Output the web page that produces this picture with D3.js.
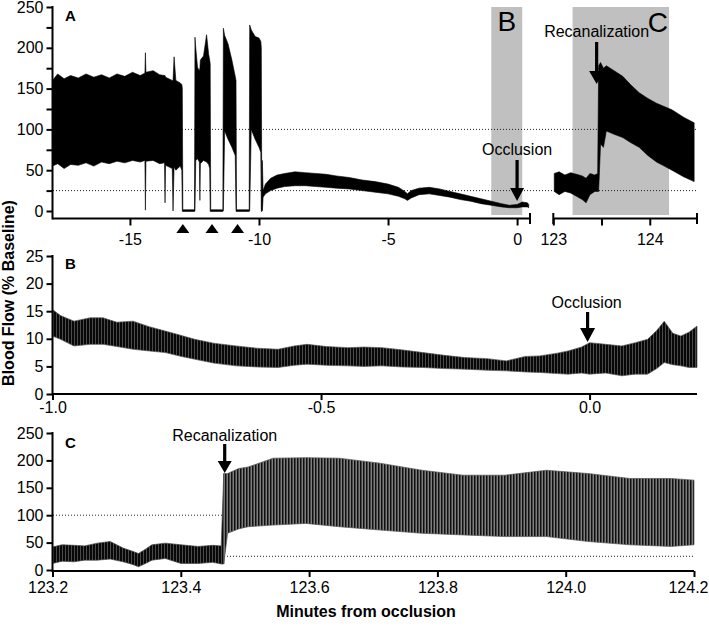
<!DOCTYPE html>
<html><head><meta charset="utf-8">
<script src="https://cdn.jsdelivr.net/npm/d3@7"></script>
<style>body{margin:0;background:#fff}svg{display:block}</style>
</head><body><svg id="c" width="709" height="627"></svg>
<script>
// ---------- DATA ([minutes, lower envelope, upper envelope]) ----------
const panelA_before = [
 [-18.00,55,160],[-17.80,58,168],[-17.55,52,162],[-17.30,57,166],[-17.00,56,163],[-16.70,59,168],
 [-16.40,55,164],[-16.10,60,167],[-15.80,58,163],[-15.50,61,168],[-15.20,59,165],[-14.90,62,170],
 [-14.60,60,166],[-14.42,62,169],[-14.40,1,194],[-14.38,61,170],[-14.10,62,172],[-13.85,58,167],
 [-13.66,59,166],[-13.64,10,166],[-13.62,56,164],[-13.36,52,160],[-13.33,0,160],[-13.29,54,189],
 [-13.22,50,160],[-13.05,55,157],[-12.99,50,155],[-12.97,-0.5,150],[-12.95,-0.5,1.5],[-12.50,-0.5,1.5],
 [-12.48,0,213],[-12.45,62,200],[-12.38,64,176],[-12.31,60,172],[-12.29,13,175],[-12.27,58,185],
 [-12.15,62,190],[-12.03,60,216],[-11.95,57,192],[-11.91,52,185],[-11.89,-0.5,180],[-11.87,-0.5,1.5],
 [-11.40,-0.5,1.5],[-11.38,0,224],[-11.33,98,215],[-11.20,88,205],[-11.05,78,185],[-10.92,68,165],
 [-10.89,-0.5,160],[-10.87,-0.5,1.5],[-10.38,-0.5,1.5],[-10.36,0,228],[-10.30,100,222],[-10.15,88,214],
 [-10.00,78,212],[-9.93,72,208],[-9.91,-0.5,200],[-9.89,-0.5,1.5],[-9.87,0,62],[-9.84,17,25],
 [-9.75,21,33],[-9.55,25,40],[-9.30,28,44],[-9.00,30,46],[-8.60,31,48],[-8.20,31,47],[-7.80,30,46],
 [-7.40,29,45],[-7.00,28,43],[-6.50,27,41],[-6.00,25,38],[-5.50,23,36],[-5.00,21,33],[-4.60,18,29],
 [-4.35,15,24],[-4.25,13,21],[-4.10,16,25],[-3.80,20,28],[-3.40,21,29],[-3.00,19,27],[-2.60,17,24],
 [-2.20,14,21],[-1.80,12,18],[-1.40,9,15],[-1.00,7,12],[-0.60,5,9],[-0.30,4,7],[0.00,4,8],
 [0.20,5,11],[0.40,5,10],[0.45,4,8]
];
const panelA_after = [
 [123.01,24,46],[123.06,20,48],[123.12,24,44],[123.18,22,47],[123.24,18,45],[123.30,14,43],
 [123.34,10,40],[123.38,20,46],[123.43,24,44],[123.46,24,46],[123.47,24,178],[123.49,82,182],
 [123.52,78,175],[123.55,98,178],[123.63,94,172],[123.72,90,165],[123.80,84,155],[123.89,78,145],
 [123.98,68,138],[124.07,60,132],[124.15,55,128],[124.23,50,124],[124.35,42,115],[124.46,36,108]
];
const panelB_trace = [
 [-1.000,10.5,15.3],[-0.985,9.9,14.2],[-0.960,8.7,13.2],[-0.930,9.0,13.8],[-0.906,9.0,13.8],
 [-0.880,8.6,13.0],[-0.850,8.1,13.2],[-0.820,7.8,12.2],[-0.790,7.5,11.4],[-0.760,6.8,10.6],
 [-0.735,6.3,9.9],[-0.700,5.6,9.2],[-0.658,5.1,8.7],[-0.620,4.9,8.3],[-0.580,4.8,8.1],
 [-0.550,5.2,8.7],[-0.526,5.4,9.0],[-0.490,5.2,8.6],[-0.450,5.1,8.4],[-0.420,5.0,8.5],
 [-0.387,5.1,8.4],[-0.350,4.9,8.0],[-0.310,4.8,7.5],[-0.270,4.6,7.0],[-0.232,4.5,6.6],
 [-0.190,4.3,6.4],[-0.155,4.2,6.0],[-0.120,4.0,6.8],[-0.093,3.9,6.9],[-0.060,3.7,7.4],
 [-0.040,3.6,7.8],[-0.015,3.8,8.5],[0.000,3.6,9.3],[0.030,3.8,9.0],[0.060,3.3,8.7],
 [0.085,3.6,9.3],[0.108,3.6,9.9],[0.125,4.6,11.5],[0.139,5.7,13.2],[0.155,5.3,11.0],
 [0.170,5.1,10.5],[0.185,4.8,11.2],[0.200,4.8,12.3]
];
const panelC_pre = [
 [123.200,12,42],[123.215,16,46],[123.234,15,45],[123.250,18,44],[123.270,18,49],[123.290,20,52],
 [123.310,15,40],[123.325,10,34],[123.334,6,30],[123.345,12,38],[123.355,18,46],[123.376,21,49],
 [123.400,12,46],[123.427,12,43],[123.450,14,45],[123.463,11,44],[123.467,11,176]
];
const panelC_post = [
 [123.467,11,176],[123.473,67,176],[123.490,75,185],[123.505,79,188],[123.544,82,204],[123.595,85,205],
 [123.647,79,204],[123.710,73,195],[123.776,67,182],[123.840,64,173],[123.905,61,173],
 [123.970,61,182],[124.035,52,176],[124.100,46,167],[124.164,43,167],[124.200,46,164]
];
const refLevels = [100, 25];
const occlusionMarks = [-12.95, -11.82, -10.83];
const windowB = [-1.0, 0.2];
const windowC = [123.2, 124.2];
const occlusionTime = 0;
const recanTime = 123.47;
const ticksA1 = [-15, -10, -5, 0];
const ticksA1Labels = ["-15", "-10", "-5", "0"];
const ticksA2 = [123, 124];
const ticksA2Labels = ["123", "124"];
const ticksAY = [0,25,50,75,100,125,150,175,200,225,250];
const ticksBX = [-1.0, -0.5, 0.0];
const ticksBXLabels = ["-1.0", "-0.5", "0.0"];
const ticksBY = [0,5,10,15,20,25];
const ticksCX = [123.2,123.4,123.6,123.8,124.0,124.2];
const ticksCXLabels = ["123.2","123.4","123.6","123.8","124.0","124.2"];
const ticksCY = [0,50,100,150,200,250];

// ---------- DRAWING ----------
const FONT = '"Liberation Sans", Arial, Helvetica, sans-serif';
const svg = d3.select("#c");
const defs = svg.append("defs");
function stripePattern(id, w, bg, lineW, fg) {
  const p = defs.append("pattern").attr("id", id).attr("width", w).attr("height", 8)
    .attr("patternUnits", "userSpaceOnUse");
  p.append("rect").attr("width", w).attr("height", 8).attr("fill", bg);
  p.append("rect").attr("width", lineW).attr("height", 8).attr("fill", fg);
}
stripePattern("stripesC", 3, "#7e7e7e", 1.5, "#101010");
stripePattern("noiseB", 3, "#4a4a4a", 2, "#080808");

// scales
const xA1 = d3.scaleLinear().domain([-18, 0.5]).range([52.5, 530]);
const xA2 = d3.scaleLinear().domain([123, 124.5]).range([553.3, 698]);
const yA = d3.scaleLinear().domain([0, 250]).range([211, 7]);
const xB = d3.scaleLinear().domain([-1.0, 0.2]).range([52.5, 697]);
const yB = d3.scaleLinear().domain([0, 25]).range([394, 256]);
const xC = d3.scaleLinear().domain([123.2, 124.2]).range([52.5, 694]);
const yC = d3.scaleLinear().domain([0, 250]).range([570, 433]);

const areaOf = (x, y) => d3.area().x(d => x(d[0])).y0(d => y(d[1])).y1(d => y(d[2]));

// gray zoom windows in panel A
svg.append("rect").attr("x", xA1(windowB[0])).attr("y", 7)
  .attr("width", xA1(windowB[1]) - xA1(windowB[0])).attr("height", 208).attr("fill", "#c0c0c0");
svg.append("rect").attr("x", xA2(windowC[0])).attr("y", 7)
  .attr("width", xA2(windowC[1]) - xA2(windowC[0])).attr("height", 208).attr("fill", "#c0c0c0");

// dotted reference lines
refLevels.forEach(v => {
  svg.append("line").attr("x1", 53).attr("x2", 697).attr("y1", yA(v)).attr("y2", yA(v))
    .attr("stroke", "#222").attr("stroke-width", 1).attr("stroke-dasharray", "1,2");
  svg.append("line").attr("x1", 53).attr("x2", 694).attr("y1", yC(v)).attr("y2", yC(v))
    .attr("stroke", "#222").attr("stroke-width", 1).attr("stroke-dasharray", "1,2");
});

// traces
svg.append("path").datum(panelA_before).attr("d", areaOf(xA1, yA)).attr("fill", "#000")
  .attr("stroke", "#000").attr("stroke-width", 0.6);
svg.append("path").datum(panelA_after).attr("d", areaOf(xA2, yA)).attr("fill", "#000")
  .attr("stroke", "#000").attr("stroke-width", 0.6);
svg.append("path").datum(panelB_trace).attr("d", areaOf(xB, yB)).attr("fill", "url(#noiseB)")
  .attr("stroke", "#555").attr("stroke-width", 0.7);
svg.append("path").datum(panelC_pre).attr("d", areaOf(xC, yC)).attr("fill", "url(#noiseB)")
  .attr("stroke", "#444").attr("stroke-width", 0.7);
svg.append("path").datum(panelC_post).attr("d", areaOf(xC, yC)).attr("fill", "url(#stripesC)")
  .attr("stroke", "#555").attr("stroke-width", 0.7);

// axes
function styleAxis(g) {
  g.select(".domain").remove();
  g.selectAll(".tick line").attr("stroke", "#000").attr("stroke-width", 2);
  g.selectAll(".tick text").attr("fill", "#000").style("font-size", "16px").style("font-family", FONT);
}
function hline(x1, x2, y) {
  svg.append("line").attr("x1", x1).attr("x2", x2).attr("y1", y).attr("y2", y)
    .attr("stroke", "#000").attr("stroke-width", 2);
}
function vline(x, y1, y2) {
  svg.append("line").attr("x1", x).attr("x2", x).attr("y1", y1).attr("y2", y2)
    .attr("stroke", "#000").attr("stroke-width", 2);
}

// Panel A
svg.append("g").attr("transform", "translate(52.5,0)")
  .call(d3.axisLeft(yA).tickValues(ticksAY).tickFormat(d => d % 50 === 0 ? d : "").tickSize(6).tickPadding(3))
  .call(styleAxis);
vline(52.5, 6, 219.5);
svg.append("g").attr("transform", "translate(0,218.5)")
  .call(d3.axisBottom(xA1).tickValues(ticksA1).tickFormat((d, i) => ticksA1Labels[i]).tickSize(7).tickPadding(8))
  .call(styleAxis);
hline(52.5, 530, 218.5);
vline(530, 213, 224);
svg.append("g").attr("transform", "translate(0,218.5)")
  .call(d3.axisBottom(xA2).tickValues(ticksA2).tickFormat((d, i) => ticksA2Labels[i]).tickSize(7).tickPadding(8))
  .call(styleAxis);
svg.append("g").attr("transform", "translate(0,218.5)")
  .call(d3.axisBottom(xA2).tickValues([123.5]).tickFormat("").tickSize(7))
  .call(styleAxis);
hline(553.3, 698, 218.5);
vline(553.3, 213, 224);
vline(697, 213, 224);

// occlusion triangles
svg.selectAll("path.tri").data(occlusionMarks).enter().append("path").attr("class", "tri")
  .attr("d", d => `M${xA1(d) - 6.5},233 L${xA1(d) + 6.5},233 L${xA1(d)},224 Z`).attr("fill", "#000");

// Panel B
svg.append("g").attr("transform", "translate(52.5,0)")
  .call(d3.axisLeft(yB).tickValues(ticksBY).tickSize(6).tickPadding(3))
  .call(styleAxis);
vline(52.5, 255, 395);
svg.append("g").attr("transform", "translate(0,394)")
  .call(d3.axisBottom(xB).tickValues(ticksBX).tickFormat((d, i) => ticksBXLabels[i]).tickSize(6).tickPadding(2))
  .call(styleAxis);
hline(52.5, 697, 394);

// Panel C
svg.append("g").attr("transform", "translate(52.5,0)")
  .call(d3.axisLeft(yC).tickValues(ticksCY).tickSize(6).tickPadding(3))
  .call(styleAxis);
vline(52.5, 432, 572);
const gCx = svg.append("g").attr("transform", "translate(0,571)")
  .call(d3.axisBottom(xC).tickValues(ticksCX).tickFormat((d, i) => ticksCXLabels[i]).tickSize(6).tickPadding(4.5))
  .call(styleAxis);
const cLabels = gCx.selectAll(".tick text");
cLabels.filter((d, i) => i === 0).attr("dx", -5);
cLabels.filter((d, i) => i === ticksCX.length - 1).attr("text-anchor", "end").attr("dx", 14);
hline(52.5, 694, 571);

// arrows
function arrow(x, yTop, yHead, yTip, w) {
  svg.append("path")
    .attr("d", `M${x - 1.6},${yTop} L${x + 1.6},${yTop} L${x + 1.6},${yHead} L${x + w / 2},${yHead} L${x},${yTip} L${x - w / 2},${yHead} L${x - 1.6},${yHead} Z`)
    .attr("fill", "#000");
}
function label(txt, x, y, size, opts = {}) {
  svg.append("text").attr("x", x).attr("y", y).text(txt)
    .attr("text-anchor", opts.anchor || "middle")
    .style("font-family", FONT).style("font-size", size + "px")
    .style("font-weight", opts.bold ? "bold" : "normal").attr("fill", "#000");
}
arrow(xA1(occlusionTime), 160, 188, 201, 14);
label("Occlusion", xA1(occlusionTime), 155, 16);
arrow(xA2(recanTime) - 2, 42, 71, 84, 15);
label("Recanalization", xA2(recanTime) - 2, 37, 16);
label("B", (xA1(windowB[0]) + xA1(windowB[1])) / 2, 31, 28);
label("C", xA2(windowC[1]) - 1, 32, 28, { anchor: "end" });

arrow(xB(occlusionTime) - 2, 312, 328, 342, 15);
label("Occlusion", xB(occlusionTime) - 3, 308, 16);

arrow(xC(recanTime) - 1, 444, 461, 473, 14);
label("Recanalization", xC(recanTime) - 1, 441, 16);

// panel letters
label("A", 65, 21, 15, { anchor: "start", bold: true });
label("B", 65, 269, 15, { anchor: "start", bold: true });
label("C", 65, 448, 15, { anchor: "start", bold: true });

// axis titles
svg.append("text").attr("transform", "translate(14,293) rotate(-90)").attr("text-anchor", "middle")
  .style("font-family", FONT).style("font-size", "16px").style("font-weight", "bold")
  .text("Blood Flow (% Baseline)");
label("Minutes from occlusion", 366, 617, 16, { bold: true });
</script></body></html>
